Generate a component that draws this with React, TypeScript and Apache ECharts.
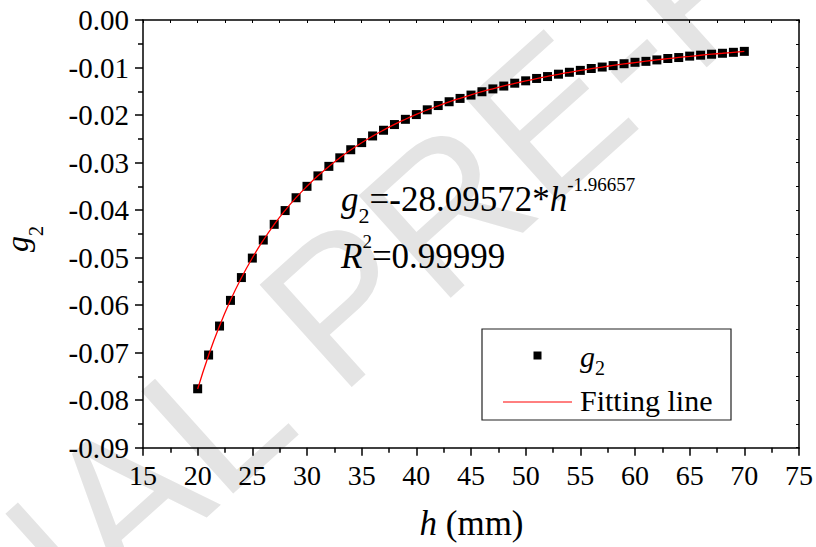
import React, { useEffect, useRef } from "react";
import * as echarts from "echarts";

const FONT = "Times New Roman";
const SANS = "Liberation Sans";

// h (mm)
const hValues = [
  20, 21, 22, 23, 24, 25, 26, 27, 28, 29, 30, 31, 32, 33, 34, 35, 36, 37, 38, 39,
  40, 41, 42, 43, 44, 45, 46, 47, 48, 49, 50, 51, 52, 53, 54, 55, 56, 57, 58, 59,
  60, 61, 62, 63, 64, 65, 66, 67, 68, 69, 70,
];

// measured g2 points
const g2Values = [
  -0.0776, -0.0705, -0.0644, -0.059, -0.0542, -0.0501, -0.0463, -0.043, -0.0401, -0.0374,
  -0.035, -0.0328, -0.0308, -0.029, -0.0273, -0.0258, -0.0244, -0.0232, -0.022, -0.0209,
  -0.0199, -0.0189, -0.018, -0.0172, -0.0165, -0.0158, -0.0151, -0.0145, -0.0139, -0.0133,
  -0.0128, -0.0123, -0.0119, -0.0114, -0.011, -0.0106, -0.0102, -0.0099, -0.0096, -0.0092,
  -0.0089, -0.0087, -0.0084, -0.0081, -0.0079, -0.0076, -0.0074, -0.0072, -0.007, -0.0068,
  -0.0066,
];

// fitting line values
const fitValues = [
  -0.07764, -0.07054, -0.06437, -0.05898, -0.05425, -0.05006, -0.04635, -0.04303, -0.04006, -0.03739,
  -0.03498, -0.03279, -0.03081, -0.029, -0.02735, -0.02583, -0.02444, -0.02316, -0.02197, -0.02088,
  -0.01986, -0.01892, -0.01805, -0.01723, -0.01647, -0.01576, -0.01509, -0.01447, -0.01388, -0.01333,
  -0.01281, -0.01232, -0.01186, -0.01142, -0.01101, -0.01062, -0.01025, -0.0099, -0.00957, -0.00925,
  -0.00895, -0.00866, -0.00839, -0.00813, -0.00788, -0.00765, -0.00742, -0.0072, -0.007, -0.0068,
  -0.00661,
];

const seriesNames = ["g2", "Fitting line"];
const fitCoef = "-28.09572";
const fitExponent = "-1.96657";
const fitR2 = "0.99999";
const xTitleUnit = " (mm)";
const watermark = "JOURNAL PRE-PROOF";

type Piece = [string, number, boolean, number];

let measureCtx: CanvasRenderingContext2D | null = null;
function measure(text: string, size: number, italic: boolean): number {
  if (!measureCtx) measureCtx = document.createElement("canvas").getContext("2d");
  if (!measureCtx) return text.length * size * 0.5;
  measureCtx.font = `${italic ? "italic " : ""}${size}px ${FONT}`;
  return measureCtx.measureText(text).width;
}

function textStyle(text: string, size: number, italic: boolean) {
  const s: any = { text, fontSize: size, fontFamily: FONT, fill: "#000", align: "left", verticalAlign: "middle" };
  if (italic) s.fontStyle = "italic";
  return s;
}

// horizontal run of plain text pieces; each piece: [text, size, italic, centerY]
function run(startX: number, pieces: Piece[]) {
  let x = startX;
  return pieces.map(([t, size, italic, cy]) => {
    const el = { type: "text", z: 100, x, y: cy, style: textStyle(t, size, italic) };
    x += measure(t, size, italic);
    return el;
  });
}

// vertical (rotated 90deg) run reading bottom to top; centerY field used as screen x
function runUp(startY: number, pieces: Piece[]) {
  let y = startY;
  return pieces.map(([t, size, italic, cx]) => {
    const el = { type: "text", z: 100, x: cx, y, rotation: Math.PI / 2, style: textStyle(t, size, italic) };
    y -= measure(t, size, italic);
    return el;
  });
}

export default function App() {
  const ref = useRef<HTMLDivElement>(null);
  useEffect(() => {
    if (!ref.current) return;
    const chart = echarts.init(ref.current, null, { renderer: "svg" });
    const axisLineStyle = { color: "#000", width: 1.5 };
    const baseX = {
      type: "value",
      min: 15,
      max: 75,
      interval: 5,
      splitLine: { show: false },
      minorSplitLine: { show: false },
    };
    const baseY = {
      type: "value",
      min: -0.09,
      max: 0,
      interval: 0.01,
      splitLine: { show: false },
      minorSplitLine: { show: false },
    };

    const eqC = 199.2;
    const r2C = 256.2;
    const xtC = 523.2;
    const xtWidth = measure("h", 35, true) + measure(xTitleUnit, 35, false);

    const graphic: any[] = [
      {
        type: "text",
        z: -10,
        silent: true,
        x: 370,
        y: 277,
        rotation: 0.733,
        style: {
          text: watermark,
          fontFamily: SANS,
          fontSize: 200,
          fill: "#e4e4e4",
          align: "center",
          verticalAlign: "middle",
        },
      },
      ...run(341, [
        ["g", 35, true, eqC],
        ["2", 22, false, 215.6],
        [`=${fitCoef}*`, 35, false, eqC],
        ["h", 35, true, eqC],
        [fitExponent, 19, false, 184.4],
      ]),
      ...run(341, [
        ["R", 35, true, r2C],
        ["2", 19, false, 241.6],
        [`=${fitR2}`, 35, false, r2C],
      ]),
      // legend
      {
        type: "rect",
        z: 90,
        shape: { x: 482, y: 329, width: 249, height: 91 },
        style: { fill: "#fff", stroke: "#222", lineWidth: 1.2 },
      },
      {
        type: "rect",
        z: 101,
        shape: { x: 533.5, y: 351.5, width: 8, height: 8 },
        style: { fill: "#000" },
      },
      {
        type: "line",
        z: 101,
        shape: { x1: 503, y1: 402, x2: 572, y2: 402 },
        style: { stroke: "#ff0000", lineWidth: 1 },
      },
      ...run(580, [
        ["g", 30, true, 356.4],
        ["2", 20, false, 368.3],
      ]),
      ...run(580, [[seriesNames[1], 30, false, 400.9]]),
      // axis titles
      ...run(471.5 - xtWidth / 2, [
        ["h", 35, true, xtC],
        [xTitleUnit, 35, false, xtC],
      ]),
      ...runUp(252, [
        ["g", 32, true, 16.9],
        ["2", 20, false, 36.3],
      ]),
    ];

    const option: any = {
      animation: false,
      backgroundColor: "#fff",
      grid: { left: 143, right: 16, top: 20, bottom: 99.3 },
      xAxis: [
        {
          ...baseX,
          position: "bottom",
          axisLine: { show: true, onZero: false, lineStyle: axisLineStyle },
          axisTick: { show: true, inside: false, length: 8, lineStyle: axisLineStyle },
          minorTick: { show: true, splitNumber: 2, length: 5, lineStyle: axisLineStyle },
          axisLabel: { show: true, margin: 13.5, color: "#000", fontSize: 28, fontFamily: FONT },
        },
        {
          ...baseX,
          position: "top",
          axisLine: { show: true, onZero: false, lineStyle: axisLineStyle },
          axisTick: { show: true, inside: true, length: 3, lineStyle: { color: "#000", width: 1 } },
          minorTick: { show: true, splitNumber: 2, length: 3, lineStyle: { color: "#000", width: 1 } },
          axisLabel: { show: false },
        },
      ],
      yAxis: [
        {
          ...baseY,
          position: "left",
          axisLine: { show: true, onZero: false, lineStyle: axisLineStyle },
          axisTick: { show: true, inside: false, length: 8, lineStyle: axisLineStyle },
          minorTick: { show: true, splitNumber: 2, length: 5, lineStyle: axisLineStyle },
          axisLabel: {
            show: true,
            margin: 14,
            color: "#000",
            fontSize: 29,
            fontFamily: FONT,
            formatter: (v: number) => (Math.abs(v) < 1e-9 ? "0.00" : v.toFixed(2)),
          },
        },
        {
          ...baseY,
          position: "right",
          axisLine: { show: true, onZero: false, lineStyle: axisLineStyle },
          axisTick: { show: true, inside: true, length: 3, lineStyle: { color: "#000", width: 1 } },
          minorTick: { show: true, splitNumber: 2, length: 3, lineStyle: { color: "#000", width: 1 } },
          axisLabel: { show: false },
        },
      ],
      series: [
        {
          type: "scatter",
          name: seriesNames[0],
          xAxisIndex: 0,
          yAxisIndex: 0,
          data: hValues.map((h, i) => [h, g2Values[i]]),
          symbol: "rect",
          symbolSize: 9,
          itemStyle: { color: "#000", opacity: 1 },
          z: 2,
        },
        {
          type: "line",
          name: seriesNames[1],
          xAxisIndex: 0,
          yAxisIndex: 0,
          data: hValues.map((h, i) => [h, fitValues[i]]),
          smooth: true,
          showSymbol: false,
          symbol: "none",
          lineStyle: { color: "#ff0000", width: 1.3 },
          z: 3,
        },
      ],
      graphic,
    };
    chart.setOption(option);
    return () => chart.dispose();
  }, []);
  return (
    <div
      ref={ref}
      style={{ position: "fixed", left: 0, top: 0, width: 816, height: 547, background: "#fff" }}
    />
  );
}
